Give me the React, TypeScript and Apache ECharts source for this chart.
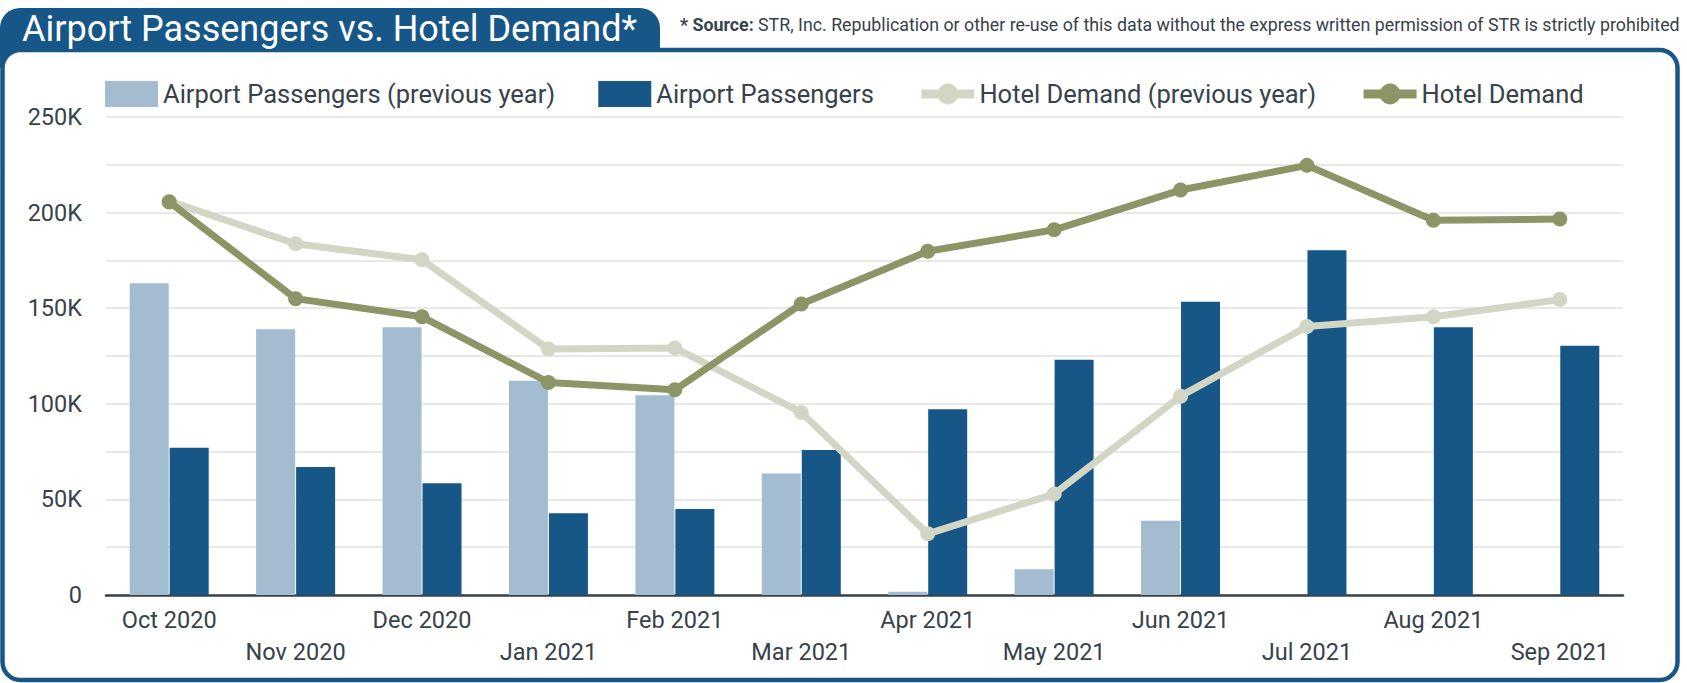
import React, { useEffect, useRef } from "react";
import * as echarts from "echarts";

const categories = ["Oct 2020", "Nov 2020", "Dec 2020", "Jan 2021", "Feb 2021", "Mar 2021", "Apr 2021", "May 2021", "Jun 2021", "Jul 2021", "Aug 2021", "Sep 2021"];
const passengersPrev: (number | null)[] = [163000, 139000, 140000, 112000, 104500, 63500, 1700, 13500, 38800, null, null, null];
const passengers = [77000, 67000, 58400, 42700, 45000, 75800, 97200, 123000, 153400, 180300, 140000, 130300];
const hotelPrev = [206000, 183700, 175300, 128700, 129200, 95500, 32000, 52800, 104000, 140400, 145500, 154500];
const hotel = [205600, 155000, 145500, 111200, 107300, 152200, 179800, 191000, 211800, 224700, 196000, 196600];

const BLUE = "#175788";
const LIGHT_BLUE = "#a3bcd0";
const OLIVE = "#8c9565";
const LIGHT_OLIVE = "#d3d6c4";
const TEXT = "#37424a";
const FONT = "Roboto";

export default function App() {
  const ref = useRef<HTMLDivElement>(null);
  useEffect(() => {
    if (!ref.current) return;
    const chart = echarts.init(ref.current, null, { renderer: "svg" });
    chart.setOption({
      animation: false,
      textStyle: { fontFamily: FONT },
      graphic: [
        {
          type: "rect",
          z: -10,
          shape: { x: 0, y: 8, width: 660, height: 60, r: [20, 20, 0, 0] },
          style: { fill: BLUE },
        },
        {
          type: "rect",
          z: -9,
          shape: { x: 2.5, y: 50, width: 1675, height: 630, r: 18 },
          style: { fill: "#ffffff", stroke: BLUE, lineWidth: 4.5 },
        },
        {
          type: "text",
          z: 10,
          x: 22,
          y: 29,
          style: {
            text: "Airport Passengers vs. Hotel Demand*",
            fill: "#ffffff",
            font: `36px ${FONT}`,
            verticalAlign: "middle",
          },
        },
        {
          type: "text",
          z: 10,
          x: 680,
          y: 24,
          style: {
            text: "{b|* Source:} STR, Inc. Republication or other re-use of this data without the express written permission of STR is strictly prohibited",
            fill: TEXT,
            font: `17.8px ${FONT}`,
            verticalAlign: "middle",
            rich: {
              b: { fontWeight: "bold", fontSize: 17.8, fontFamily: FONT, fill: TEXT },
            },
          },
        },
      ],
      legend: {
        left: 100,
        top: 76,
        itemWidth: 53,
        itemHeight: 26,
        itemGap: 43,
        textStyle: { fontSize: 25.5, color: TEXT, fontFamily: FONT },
        data: [
          { name: "Airport Passengers (previous year)", icon: "rect" },
          { name: "Airport Passengers", icon: "rect" },
          { name: "Hotel Demand (previous year)", lineStyle: { width: 9 } },
          { name: "Hotel Demand", lineStyle: { width: 9 } },
        ],
      },
      grid: { left: 106, right: 64, top: 117, bottom: 88, containLabel: false },
      xAxis: {
        type: "category",
        data: categories,
        axisTick: { show: false },
        axisLine: { lineStyle: { color: TEXT, width: 2.5 } },
        axisLabel: {
          interval: 0,
          margin: 9,
          fontSize: 23.5,
          lineHeight: 32,
          color: TEXT,
          fontFamily: FONT,
          formatter: (v: string, i: number) => (i % 2 === 1 ? "\n" + v : v),
        },
      },
      yAxis: {
        type: "value",
        min: 0,
        max: 250000,
        interval: 25000,
        axisLine: { show: false },
        axisTick: { show: false },
        splitLine: { lineStyle: { color: "#e8e8e8", width: 2 } },
        axisLabel: {
          margin: 24,
          fontSize: 23.5,
          color: TEXT,
          fontFamily: FONT,
          formatter: (v: number) => (v % 50000 === 0 ? (v === 0 ? "0" : v / 1000 + "K") : ""),
        },
      },
      series: [
        {
          name: "Airport Passengers (previous year)",
          type: "bar",
          data: passengersPrev,
          barWidth: 39,
          barGap: "2.5%",
          itemStyle: { color: LIGHT_BLUE },
        },
        {
          name: "Airport Passengers",
          type: "bar",
          data: passengers,
          barWidth: 39,
          barGap: "2.5%",
          itemStyle: { color: BLUE },
        },
        {
          name: "Hotel Demand (previous year)",
          type: "line",
          data: hotelPrev,
          symbol: "circle",
          symbolSize: 15,
          lineStyle: { color: LIGHT_OLIVE, width: 7 },
          itemStyle: { color: LIGHT_OLIVE },
          z: 3,
        },
        {
          name: "Hotel Demand",
          type: "line",
          data: hotel,
          symbol: "circle",
          symbolSize: 15,
          lineStyle: { color: OLIVE, width: 7 },
          itemStyle: { color: OLIVE },
          z: 4,
        },
      ],
    });
    return () => chart.dispose();
  }, []);
  return (
    <div
      ref={ref}
      style={{ position: "fixed", left: 0, top: 0, width: 1687, height: 683, background: "#ffffff" }}
    />
  );
}
